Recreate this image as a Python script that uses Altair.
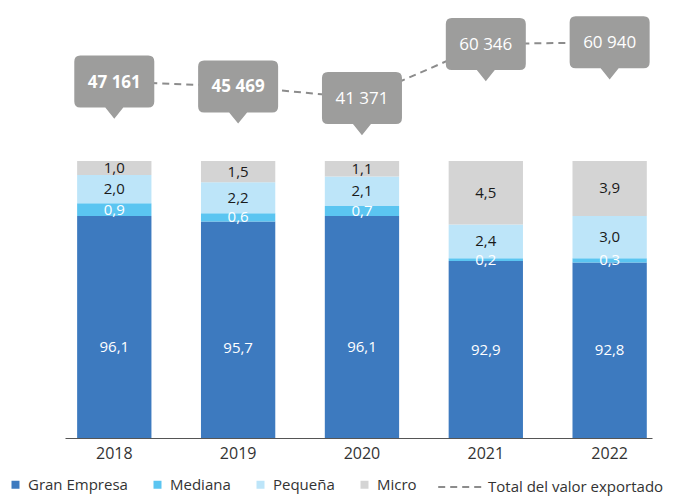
import altair as alt
import pandas as pd

# ---- data ----
years = ["2018", "2019", "2020", "2021", "2022"]
categories = ["Gran Empresa", "Mediana", "Pequeña", "Micro"]
gran = [96.1, 95.7, 96.1, 92.9, 92.8]
mediana = [0.9, 0.6, 0.7, 0.2, 0.3]
pequena = [2.0, 2.2, 2.1, 2.4, 3.0]
micro = [1.0, 1.5, 1.1, 4.5, 3.9]
totals = [47161, 45469, 41371, 60346, 60940]
bold_totals = [True, True, False, False, False]
line_name = "Total del valor exportado"

# ---- styling ----
cat_colors = ["#3d7abf", "#5bc5f1", "#bde5f9", "#d4d4d4"]
box_color = "#9d9d9c"
line_color = "#8c8c8c"
FONT = "Open Sans"

rows = []
for i, y in enumerate(years):
    for j, (c, vals) in enumerate(zip(categories, [gran, mediana, pequena, micro])):
        rows.append({"year": y, "category": c, "value": vals[i], "order": j})
bars_df = pd.DataFrame(rows)
tot_df = pd.DataFrame({"year": years, "total": totals, "bold": bold_totals, "serie": line_name})

x_enc = alt.X(
    "year:N",
    scale=alt.Scale(paddingInner=0.4, paddingOuter=0.07, align=0.7),
    axis=alt.Axis(title=None, labelAngle=0, labelFont=FONT, labelFontSize=16,
                  labelColor="#333333", ticks=False, domainColor="#555555",
                  domainWidth=1.2, labelPadding=7, grid=False),
)
bar_scale = alt.Scale(domain=[0, 92.8, 100], range=[430, 254.5, 153], nice=False, zero=False)
tot_scale = alt.Scale(domain=[40000, 62000], range=[94, 31.3], nice=False, zero=False)

base_bars = alt.Chart(bars_df)

bars = base_bars.mark_bar().encode(
    x=x_enc,
    y=alt.Y("value:Q", stack="zero", scale=bar_scale, axis=None),
    color=alt.Color(
        "category:N",
        scale=alt.Scale(domain=categories, range=cat_colors),
        legend=alt.Legend(title=None, orient="none", direction="horizontal",
                          legendX=-57, legendY=469, symbolType="square",
                          symbolSize=64, symbolStrokeWidth=0, labelFont=FONT,
                          labelFontSize=15, labelColor="#333333", labelOffset=5,
                          columnPadding=22, padding=0, labelLimit=300),
    ),
    order=alt.Order("order:Q", sort="ascending"),
)

bar_labels = base_bars.transform_stack(
    stack="value", groupby=["year"], sort=[alt.SortField("order", "ascending")], as_=["y0", "y1"]
).transform_calculate(
    mid="(datum.y0 + datum.y1) / 2",
    lab="replace(format(datum.value, '.1f'), '.', ',')",
).mark_text(font=FONT, fontSize=15, baseline="middle").encode(
    x=x_enc,
    y=alt.Y("mid:Q", scale=bar_scale, axis=None),
    text="lab:N",
    color=alt.condition(
        "datum.category == 'Gran Empresa' || datum.category == 'Mediana'",
        alt.value("white"), alt.value("#1a1a1a"),
    ),
)

base_tot = alt.Chart(tot_df).transform_calculate(
    lab="replace(format(datum.total, ','), ',', ' ')"
)

line = base_tot.mark_line(color=line_color, strokeWidth=2).encode(
    x=x_enc,
    y=alt.Y("total:Q", scale=tot_scale, axis=None),
    strokeDash=alt.StrokeDash(
        "serie:N",
        scale=alt.Scale(domain=[line_name], range=[[7, 5]]),
        legend=alt.Legend(title=None, orient="none", legendX=372, legendY=456,
                          symbolType="stroke", symbolSize=1900, symbolStrokeWidth=2,
                          symbolStrokeColor=line_color, labelFont=FONT,
                          labelFontSize=15, labelColor="#333333", labelOffset=5,
                          padding=0, labelLimit=400),
    ),
)

callout_path = ("M-0.85,-0.65 L0.85,-0.65 Q1,-0.65 1,-0.5 L1,0.5 Q1,0.65 0.85,0.65 "
                "L0.225,0.65 L0,0.93 L-0.225,0.65 L-0.85,0.65 Q-1,0.65 -1,0.5 "
                "L-1,-0.5 Q-1,-0.65 -0.85,-0.65 Z")

boxes = base_tot.mark_point(shape=callout_path, size=6400, filled=True,
                            fill=box_color, opacity=1, strokeWidth=0).encode(
    x=x_enc,
    y=alt.Y("total:Q", scale=tot_scale, axis=None),
)

box_text_bold = base_tot.transform_filter("datum.bold").mark_text(
    font=FONT, fontSize=17, fontWeight="bold", color="white", dy=1, baseline="middle"
).encode(
    x=x_enc, y=alt.Y("total:Q", scale=tot_scale, axis=None), text="lab:N"
)
box_text_norm = base_tot.transform_filter("!datum.bold").mark_text(
    font=FONT, fontSize=17, color="white", dy=1, baseline="middle"
).encode(
    x=x_enc, y=alt.Y("total:Q", scale=tot_scale, axis=None), text="lab:N"
)

chart = alt.layer(
    bars, bar_labels, line, boxes, box_text_bold, box_text_norm
).resolve_scale(y="independent").properties(
    width=587, height=430,
    padding={"left": 57, "top": 0, "right": 29, "bottom": 58},
    autosize=alt.AutoSizeParams(type="none"),
).configure_view(stroke=None)

chart.save("out.html", embed_options={"renderer": "svg", "actions": False})
